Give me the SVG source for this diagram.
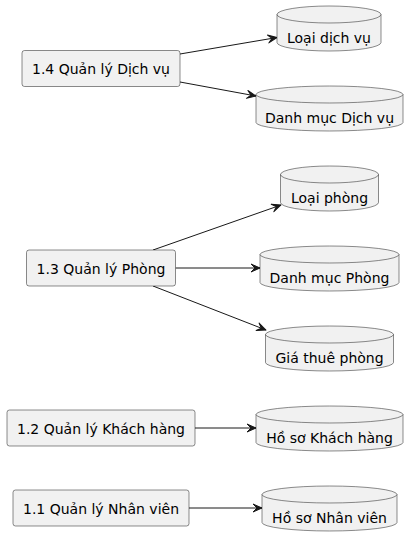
<svg xmlns="http://www.w3.org/2000/svg" width="420" height="547" viewBox="0 0 420 547">
<style>
.box{fill:#F1F1F1;stroke:#181818;stroke-width:0.5}
.db{fill:#F1F1F1;stroke:#181818;stroke-width:0.5}
.arc{fill:none;stroke:#181818;stroke-width:0.5}
.lbl{font-family:"DejaVu Sans",sans-serif;font-size:14px;fill:#000000;text-anchor:middle}
.edge{fill:none;stroke:#181818;stroke-width:1;marker-end:url(#arr)}
</style>
<defs>
<marker id="arr" viewBox="-10 -5 11 10" refX="0" refY="0" markerWidth="11" markerHeight="10" orient="auto" markerUnits="userSpaceOnUse">
<path d="M0,0 L-9,-4 L-5,0 L-9,4 Z" fill="#181818" stroke="#181818" stroke-width="1" stroke-linejoin="round"/>
</marker>
</defs>
<rect width="420" height="547" fill="#FFFFFF"/>
<g id="connectors">
<line class="edge" x1="180" y1="54" x2="277" y2="37.5"/>
<line class="edge" x1="180" y1="82" x2="256" y2="96"/>
<line class="edge" x1="153" y1="250" x2="281" y2="205"/>
<line class="edge" x1="175.5" y1="268" x2="260" y2="268"/>
<line class="edge" x1="153" y1="286" x2="266" y2="330"/>
<line class="edge" x1="195" y1="428" x2="256" y2="428"/>
<line class="edge" x1="189" y1="508" x2="262" y2="508"/>
</g>
<g id="p14">
<rect class="box" x="22" y="50.5" width="158" height="36" rx="2.5"/>
<text class="lbl" x="101" y="74">1.4 Quản lý Dịch vụ</text>
</g>
<g id="p13">
<rect class="box" x="26.5" y="250" width="149" height="36" rx="2.5"/>
<text class="lbl" x="101" y="273.5">1.3 Quản lý Phòng</text>
</g>
<g id="p12">
<rect class="box" x="7" y="410" width="188" height="36" rx="2.5"/>
<text class="lbl" x="101" y="433.5">1.2 Quản lý Khách hàng</text>
</g>
<g id="p11">
<rect class="box" x="13" y="490" width="176" height="36" rx="2.5"/>
<text class="lbl" x="101" y="513.5">1.1 Quản lý Nhân viên</text>
</g>
<g id="d_loaidv">
<path class="db" d="M277,14.5 A52,8.5 0 0 1 381,14.5 L381,42.5 A52,8.5 0 0 1 277,42.5 Z"/>
<path class="arc" d="M277,14.5 A52,8.5 0 0 0 381,14.5"/>
<text class="lbl" x="329" y="43">Loại dịch vụ</text>
</g>
<g id="d_dmdv">
<path class="db" d="M256,94.5 A73.5,8.5 0 0 1 403,94.5 L403,122.5 A73.5,8.5 0 0 1 256,122.5 Z"/>
<path class="arc" d="M256,94.5 A73.5,8.5 0 0 0 403,94.5"/>
<text class="lbl" x="329.5" y="123">Danh mục Dịch vụ</text>
</g>
<g id="d_loaiphong">
<path class="db" d="M280.5,174.5 A49,8.5 0 0 1 378.5,174.5 L378.5,202.5 A49,8.5 0 0 1 280.5,202.5 Z"/>
<path class="arc" d="M280.5,174.5 A49,8.5 0 0 0 378.5,174.5"/>
<text class="lbl" x="329.5" y="203">Loại phòng</text>
</g>
<g id="d_dmphong">
<path class="db" d="M260,254.5 A69.5,8.5 0 0 1 399,254.5 L399,282.5 A69.5,8.5 0 0 1 260,282.5 Z"/>
<path class="arc" d="M260,254.5 A69.5,8.5 0 0 0 399,254.5"/>
<text class="lbl" x="329.5" y="283">Danh mục Phòng</text>
</g>
<g id="d_giathue">
<path class="db" d="M265.5,334.5 A64,8.5 0 0 1 393.5,334.5 L393.5,362.5 A64,8.5 0 0 1 265.5,362.5 Z"/>
<path class="arc" d="M265.5,334.5 A64,8.5 0 0 0 393.5,334.5"/>
<text class="lbl" x="329.5" y="363">Giá thuê phòng</text>
</g>
<g id="d_hskh">
<path class="db" d="M256,414.5 A73.5,8.5 0 0 1 403,414.5 L403,442.5 A73.5,8.5 0 0 1 256,442.5 Z"/>
<path class="arc" d="M256,414.5 A73.5,8.5 0 0 0 403,414.5"/>
<text class="lbl" x="329.5" y="443">Hồ sơ Khách hàng</text>
</g>
<g id="d_hsnv">
<path class="db" d="M262,494.5 A67.5,8.5 0 0 1 397,494.5 L397,522.5 A67.5,8.5 0 0 1 262,522.5 Z"/>
<path class="arc" d="M262,494.5 A67.5,8.5 0 0 0 397,494.5"/>
<text class="lbl" x="329.5" y="523">Hồ sơ Nhân viên</text>
</g>
</svg>
